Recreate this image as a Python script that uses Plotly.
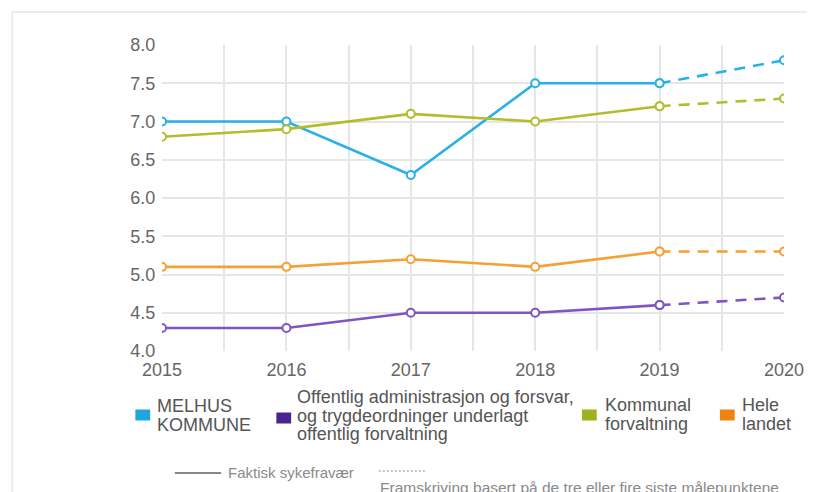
import plotly.graph_objects as go

# ---- data ----
years = [2015, 2016, 2017, 2018, 2019]
proj_year = 2020
series_names = ["MELHUS KOMMUNE",
                "Offentlig administrasjon og forsvar, og trygdeordninger underlagt offentlig forvaltning",
                "Kommunal forvaltning",
                "Hele landet"]
melhus = [7.0, 7.0, 6.3, 7.5, 7.5]
offentlig = [4.3, 4.3, 4.5, 4.5, 4.6]
kommunal = [6.8, 6.9, 7.1, 7.0, 7.2]
hele = [5.1, 5.1, 5.2, 5.1, 5.3]
projections = [7.8, 4.7, 7.3, 5.3]
x_ticks = [2015, 2016, 2017, 2018, 2019, 2020]
y_ticks = [4.0, 4.5, 5.0, 5.5, 6.0, 6.5, 7.0, 7.5, 8.0]
legend_lines = [["MELHUS", "KOMMUNE"],
                ["Offentlig administrasjon og forsvar,", "og trygdeordninger underlagt", "offentlig forvaltning"],
                ["Kommunal", "forvaltning"],
                ["Hele", "landet"]]
style_labels = ["Faktisk sykefravær", "Framskriving basert på de tre eller fire siste målepunktene"]

values = [melhus, offentlig, kommunal, hele]
line_colors = ["#27B1E6", "#8055C2", "#B2BD2C", "#F5A034"]
legend_colors = ["#1EA6DD", "#4A2291", "#9DB21C", "#EF830F"]

W, H = 816, 492
L, R, T, B = 162, 23, 45, 141
PW, PH = W - L - R, H - T - B

def px(x):
    return (x - L) / PW

def py(y):
    return (H - B - y) / PH

fig = go.Figure()
for name, vals, proj, col in zip(series_names, values, projections, line_colors):
    fig.add_trace(go.Scatter(
        x=years, y=vals, mode="lines+markers", name=name,
        line=dict(color=col, width=2.6),
        marker=dict(size=8, color="white", line=dict(color=col, width=2)),
        showlegend=False, hoverinfo="x+y"))
    fig.add_trace(go.Scatter(
        x=[years[-1], proj_year], y=[vals[-1], proj], mode="lines+markers",
        line=dict(color=col, width=2.6, dash="11px,8px"),
        marker=dict(size=8, color="white", line=dict(color=col, width=2)),
        showlegend=False, hoverinfo="x+y"))

grid_col = "#e6e6e6"
fig.update_xaxes(range=[x_ticks[0], x_ticks[-1]], tickvals=x_ticks,
                 ticktext=[str(t) for t in x_ticks],
                 showgrid=True, gridcolor=grid_col, gridwidth=1.5,
                 minor=dict(dtick=0.5, showgrid=True, gridcolor=grid_col, gridwidth=1.5),
                 zeroline=False, showline=True, mirror=True, linecolor="white", linewidth=3,
                 layer="below traces", ticks="", ticklen=0,
                 tickfont=dict(family="Liberation Sans, Arial", size=18, color="#666666"))
fig.update_yaxes(range=[y_ticks[0], y_ticks[-1]], tickvals=y_ticks,
                 ticktext=[f"{t:.1f}" for t in y_ticks],
                 showgrid=True, gridcolor=grid_col, gridwidth=1.5,
                 zeroline=False, showline=True, mirror=True, linecolor="white", linewidth=3,
                 layer="below traces", ticks="", ticklen=0,
                 tickfont=dict(family="Liberation Sans, Arial", size=18, color="#666666"))

annotations = []
shapes = []
font_leg = dict(family="Liberation Sans, Arial", size=18, color="#555555")

# legend layout (page pixel positions)
sq_x = [135, 278, 588, 728]
txt_x = [155, 297, 609, 748]
line_y0 = [406, 397, 405, 405]
sq_yc = [415, 418, 415, 415]
line_gap = 18.7
for i in range(4):
    shapes.append(dict(type="rect", xref="paper", yref="paper",
                       x0=px(sq_x[i]), x1=px(sq_x[i] + 15),
                       y0=py(sq_yc[i] - 5.5), y1=py(sq_yc[i] + 5.5),
                       fillcolor=legend_colors[i], line=dict(width=0)))
    for j, txt in enumerate(legend_lines[i]):
        annotations.append(dict(text=txt, xref="paper", yref="paper",
                                x=px(txt_x[i]), y=py(line_y0[i] + j * line_gap),
                                xanchor="left", yanchor="middle", showarrow=False,
                                font=font_leg))

# style legend row
font_small = dict(family="Liberation Sans, Arial", size=15, color="#8a8a8a")
shapes.append(dict(type="line", xref="paper", yref="paper",
                   x0=px(175), x1=px(222), y0=py(473), y1=py(473),
                   line=dict(color="#8c8680", width=2)))
annotations.append(dict(text=style_labels[0], xref="paper", yref="paper",
                        x=px(227), y=py(472), xanchor="left", yanchor="middle",
                        showarrow=False, font=font_small))
shapes.append(dict(type="line", xref="paper", yref="paper",
                   x0=px(382), x1=px(430), y0=py(471), y1=py(471),
                   line=dict(color="#8a8a8a", width=1, dash="2px,2px")))
annotations.append(dict(text=style_labels[1], xref="paper", yref="paper",
                        x=px(381), y=py(487), xanchor="left", yanchor="middle",
                        showarrow=False, font=dict(family="Liberation Sans, Arial", size=15.5, color="#8a8a8a")))

# outer frame lines
shapes.append(dict(type="line", xref="paper", yref="paper",
                   x0=px(10), x1=px(816), y0=py(12), y1=py(12),
                   line=dict(color="#ececec", width=2)))
shapes.append(dict(type="line", xref="paper", yref="paper",
                   x0=px(10), x1=px(10), y0=py(12), y1=py(492),
                   line=dict(color="#ececec", width=2)))

fig.update_layout(width=W, height=H, margin=dict(l=L, r=R, t=T, b=B),
                  paper_bgcolor="white", plot_bgcolor="white", hovermode=False,
                  showlegend=False, annotations=annotations, shapes=shapes)

fig.write_html("out.html", config={"displayModeBar": False},
               post_script="document.body.style.margin='0';document.body.style.overflow='hidden';")
